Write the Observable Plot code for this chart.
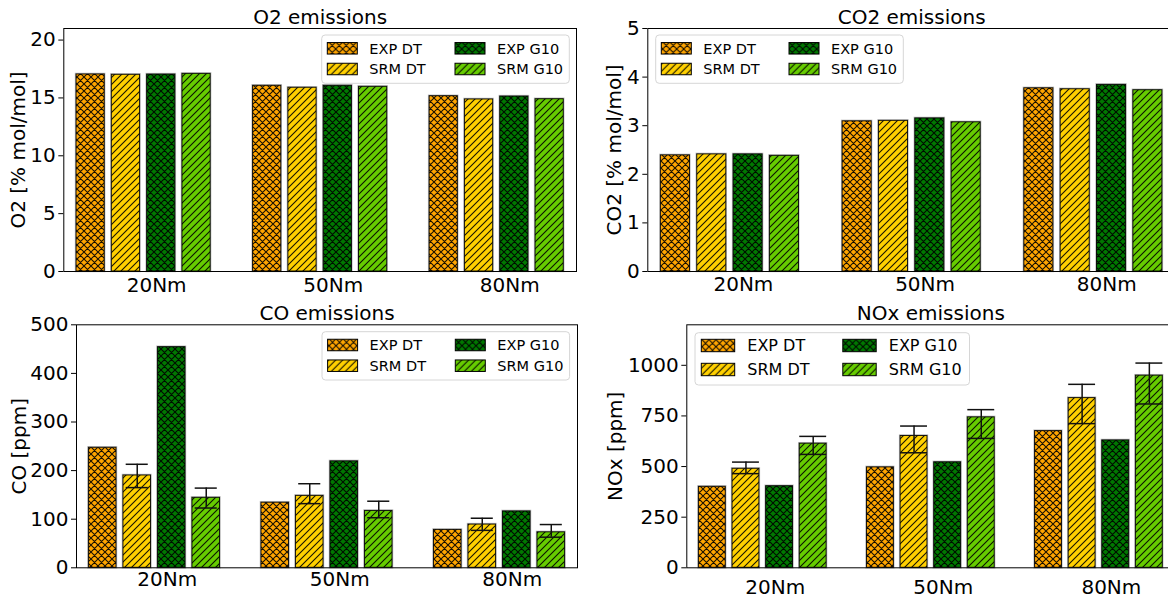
<!DOCTYPE html>
<html><head><meta charset="utf-8">
<script src="https://cdn.jsdelivr.net/npm/d3@7"></script>
<script src="https://cdn.jsdelivr.net/npm/@observablehq/plot@0.6"></script>
<style>
html,body{margin:0;padding:0;background:#fff;overflow:hidden;width:1168px;height:600px;}
#root{position:relative;width:1168px;height:600px;overflow:hidden;font-family:"DejaVu Sans",sans-serif;}
.panel{position:absolute;}
</style></head><body>
<svg width="0" height="0" style="position:absolute"><defs id="defs"></defs></svg>
<div id="root"></div>
<script>
// ---- data ----
const groups = ["20Nm", "50Nm", "80Nm"];
const series = ["EXP DT", "SRM DT", "EXP G10", "SRM G10"];
const seriesColors = ["#ffa500", "#ffd000", "#007800", "#66cc00"];
const seriesHatch = ["x", "/", "x", "/"];

// values per series (rows) for groups 20Nm, 50Nm, 80Nm
const o2Values = [[17.03, 16.05, 15.15], [17.0, 15.88, 14.87], [17.02, 16.05, 15.12], [17.08, 15.96, 14.89]];
const co2Values = [[2.39, 3.09, 3.77], [2.41, 3.10, 3.75], [2.41, 3.15, 3.84], [2.38, 3.07, 3.73]];
const coValues = [[247, 134, 78], [190, 148, 89], [454, 219, 116], [144, 117, 73]];
const noxValues = [[400, 496, 675], [489, 651, 838], [403, 521, 629], [613, 743, 949]];

// error bars exist only for the SRM series
const errSeries = [1, 3];
const coErrLow = [[165, 132, 77], [123, 103, 63]];
const coErrHigh = [[213, 173, 102], [164, 137, 89]];
const noxErrLow = [[465, 568, 712], [560, 639, 809]];
const noxErrHigh = [[522, 700, 906], [649, 781, 1011]];

const o2Ticks = [0, 5, 10, 15, 20];
const co2Ticks = [0, 1, 2, 3, 4, 5];
const coTicks = [0, 100, 200, 300, 400, 500];
const noxTicks = [0, 250, 500, 750, 1000];

// ---- hatch patterns ----
const P = 7;
function addPattern(id, color, kind) {
  const p = d3.select("#defs").append("pattern").attr("id", id)
    .attr("patternUnits", "userSpaceOnUse").attr("width", P).attr("height", P);
  p.append("rect").attr("width", P).attr("height", P).attr("fill", color);
  const slash = `M${-P/2},${P/2}L${P/2},${-P/2}M0,${P}L${P},0M${P/2},${P*1.5}L${P*1.5},${P/2}`;
  const back = `M${-P/2},${P/2}L${P/2},${P*1.5}M0,0L${P},${P}M${P/2},${-P/2}L${P*1.5},${P/2}`;
  p.append("path").attr("d", kind === "x" ? slash + back : slash)
    .attr("stroke", "#000").attr("stroke-width", 1.1).attr("stroke-opacity", 0.9).attr("fill", "none");
}
series.forEach((s, i) => addPattern("pat" + i, seriesColors[i], seriesHatch[i]));

const GSTEP = 5, BW = 0.8, LABELPOS = 1.87;

function panel(o) {
  const rows = [];
  series.forEach((s, si) => groups.forEach((g, gi) => rows.push({s, si, g, gi, v: o.values[si][gi], pos: gi * GSTEP + si})));
  const errRows = [];
  if (o.errLow) errSeries.forEach((si, k) => groups.forEach((g, gi) => errRows.push({pos: gi * GSTEP + si, lo: o.errLow[k][gi], hi: o.errHigh[k][gi]})));
  const marks = [];
  marks.push(Plot.rect(rows, {x1: d => d.pos - BW/2, x2: d => d.pos + BW/2, y1: 0, y2: "v", fill: "none", stroke: "#9a9a9a", strokeWidth: 2.4, strokeOpacity: 0.6}));
  series.forEach((s, si) => marks.push(Plot.rect(rows.filter(d => d.si === si), {
    x1: d => d.pos - BW/2, x2: d => d.pos + BW/2, y1: 0, y2: "v",
    fill: `url(#pat${si})`, stroke: "#000", strokeWidth: 1, strokeOpacity: 0.9
  })));
  if (errRows.length) {
    marks.push(Plot.ruleX(errRows, {x: "pos", y1: "lo", y2: "hi", stroke: "#111", strokeWidth: 1.5}));
    marks.push(Plot.ruleY(errRows, {y: "hi", x1: d => d.pos - o.cap, x2: d => d.pos + o.cap, stroke: "#111", strokeWidth: 1.5}));
    marks.push(Plot.ruleY(errRows, {y: "lo", x1: d => d.pos - o.cap, x2: d => d.pos + o.cap, stroke: "#111", strokeWidth: 1.5}));
  }
  marks.push(Plot.axisY({ticks: o.yTicks, tickFormat: d => String(d), tickSize: 5, tickPadding: 3, fontSize: 20, label: null, stroke: "#000"}));
  marks.push(Plot.text(groups, {x: (d, i) => i * GSTEP + LABELPOS, text: d => d, frameAnchor: "bottom", lineAnchor: "top", dy: o.xlabDy, fontSize: 20, fill: "#000"}));
  marks.push(Plot.text([o.title], {frameAnchor: "top", lineAnchor: "bottom", dy: -4.7, fontSize: 20, fill: "#000"}));
  marks.push(Plot.text([o.ylabel], {frameAnchor: "left", rotate: -90, textAnchor: "middle", lineAnchor: "bottom", dx: o.ylabDx, fontSize: 20, fill: "#000"}));
  marks.push(Plot.frame({stroke: "#000", strokeWidth: 1}));

  const chart = Plot.plot({
    width: o.width, height: o.height,
    marginTop: o.mt, marginBottom: o.mb, marginLeft: o.ml, marginRight: o.mr,
    x: {domain: [-0.76, 13.76], axis: null},
    y: {domain: o.yDomain, axis: null},
    style: {fontFamily: "DejaVu Sans, sans-serif", background: "transparent", overflow: "visible", color: "#000"},
    marks
  });
  chart.classList.add("panel");
  chart.style.left = o.left + "px";
  chart.style.top = o.top + "px";

  // legend
  const L = o.legend;
  const svg = d3.select(chart);
  const g = svg.append("g").attr("transform", `translate(${L.x},${L.y})`);
  g.append("rect").attr("width", L.w).attr("height", L.h).attr("rx", 3.5)
    .attr("fill", "#fff").attr("fill-opacity", 0.8).attr("stroke", "#d6d6d6").attr("stroke-width", 1);
  series.forEach((s, si) => {
    const col = Math.floor(si / 2), row = si % 2;
    const x0 = L.cols[col], yc = L.rows[row];
    g.append("rect").attr("x", x0).attr("y", yc - L.sh / 2).attr("width", L.sw).attr("height", L.sh)
      .attr("fill", `url(#pat${si})`).attr("stroke", "#000").attr("stroke-width", 1);
    g.append("text").attr("x", x0 + L.tx).attr("y", yc).attr("dy", "0.36em").attr("text-anchor", "start")
      .attr("font-size", L.fs).attr("fill", "#000").attr("font-family", "DejaVu Sans, sans-serif").text(s);
  });
  document.getElementById("root").appendChild(chart);
}

const smallLegend = (x, y) => ({x, y, w: 247.6, h: 48.3, rows: [13.3, 34], cols: [5.6, 133.3], sw: 30, sh: 11.5, tx: 42, fs: 14.5});

panel({left: 0, top: 0, width: 584, height: 300, mt: 28, mb: 29, ml: 63.3, mr: 8,
  yDomain: [0, 21], yTicks: o2Ticks, values: o2Values, title: "O2 emissions", ylabel: "O2 [% mol/mol]",
  ylabDx: -38.7, xlabDy: 6, legend: smallLegend(321.7, 35)});
panel({left: 584, top: 0, width: 600, height: 300, mt: 28, mb: 29, ml: 63.3, mr: 9,
  yDomain: [0, 5], yTicks: co2Ticks, values: co2Values, title: "CO2 emissions", ylabel: "CO2 [% mol/mol]",
  ylabDx: -27.3, xlabDy: 5.7, legend: smallLegend(71.7, 35)});
panel({left: 0, top: 300, width: 584, height: 300, mt: 24.3, mb: 32.7, ml: 76, mr: 7,
  yDomain: [0, 500], yTicks: coTicks, values: coValues, errLow: coErrLow, errHigh: coErrHigh, cap: 0.32,
  title: "CO emissions", ylabel: "CO [ppm]", ylabDx: -51, xlabDy: 4.4, legend: smallLegend(322, 31.7)});
panel({left: 584, top: 300, width: 600, height: 300, mt: 24.3, mb: 32.7, ml: 102.3, mr: 9.6,
  yDomain: [0, 1200], yTicks: noxTicks, values: noxValues, errLow: noxErrLow, errHigh: noxErrHigh, cap: 0.4,
  title: "NOx emissions", ylabel: "NOx [ppm]", ylabDx: -65, xlabDy: 12,
  legend: {x: 111, y: 32.7, w: 274.5, h: 52.3, rows: [12.8, 36.8], cols: [6.3, 147.8], sw: 33.4, sh: 12.4, tx: 46, fs: 16}});
</script>
</body></html>
